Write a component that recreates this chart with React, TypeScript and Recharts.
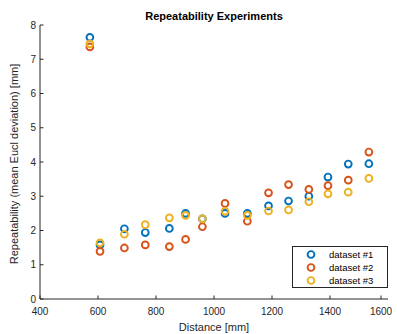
import React from 'react';
import { ScatterChart, Scatter, XAxis, YAxis, Legend, Customized } from 'recharts';

const distances = [572, 607, 691, 763, 846, 902, 960, 1038, 1115, 1188, 1257, 1327, 1393, 1463, 1534];
const dataset1 = [7.64, 1.58, 2.05, 1.94, 2.06, 2.5, 2.34, 2.5, 2.5, 2.72, 2.86, 3.0, 3.56, 3.94, 3.95];
const dataset2 = [7.36, 1.39, 1.49, 1.58, 1.53, 1.74, 2.11, 2.79, 2.27, 3.1, 3.34, 3.2, 3.31, 3.47, 4.29];
const dataset3 = [7.45, 1.64, 1.89, 2.17, 2.37, 2.44, 2.34, 2.56, 2.44, 2.57, 2.6, 2.84, 3.07, 3.12, 3.52];
const seriesNames = ['dataset #1', 'dataset #2', 'dataset #3'];
const xTicks = [400, 600, 800, 1000, 1200, 1400, 1600];
const yTicks = [0, 1, 2, 3, 4, 5, 6, 7, 8];
const titleText = 'Repeatability Experiments';
const xLabel = 'Distance [mm]';
const yLabel = 'Repeatability (mean Eucl deviation) [mm]';

const COLORS = ['#0072BD', '#D95319', '#EDB120'];
const AXIS = '#262626';
const FONT = '"Liberation Sans", Arial, Helvetica, sans-serif';

const seriesData = [dataset1, dataset2, dataset3].map((vals) =>
  distances.map((x, i) => ({ x, y: vals[i] }))
);

const Ring = (color: string) => (props: any) =>
  <circle cx={props.cx} cy={props.cy} r={3.4} fill="none" stroke={color} strokeWidth={1.9} />;

const XTick = (props: any) => {
  const { x, y, payload } = props;
  return (
    <g>
      <line x1={x} y1={y} x2={x} y2={y - 3.5} stroke={AXIS} strokeWidth={1} />
      <text x={x} y={y + 16} textAnchor="middle" fill={AXIS} fontSize={10} fontFamily={FONT}>{payload.value}</text>
    </g>
  );
};

const YTick = (props: any) => {
  const { x, y, payload } = props;
  return (
    <g>
      <line x1={x} y1={y} x2={x + 3.5} y2={y} stroke={AXIS} strokeWidth={1} />
      <text x={x - 4} y={y + 3.5} textAnchor="end" fill={AXIS} fontSize={10} fontFamily={FONT}>{payload.value}</text>
    </g>
  );
};

const LegendBox = () => (
  <div style={{ width: 96, height: 42, border: `1px solid ${AXIS}`, background: '#fff', boxSizing: 'border-box', position: 'relative' }}>
    <svg width={94} height={40} style={{ position: 'absolute', left: 0, top: 0 }}>
      {seriesNames.map((n, i) => (
        <g key={n}>
          <circle cx={18} cy={7.5 + i * 13} r={3.4} fill="none" stroke={COLORS[i]} strokeWidth={1.9} />
          <text x={36} y={11 + i * 13} fontSize={9.5} fill="#000" fontFamily={FONT}>{n}</text>
        </g>
      ))}
    </svg>
  </div>
);

const Texts = () => (
  <g fontFamily={FONT}>
    <text x={214} y={20} textAnchor="middle" fontSize={11} fontWeight="bold" fill="#000">{titleText}</text>
    <text x={214} y={331} textAnchor="middle" fontSize={11} fill={AXIS}>{xLabel}</text>
    <text x={18} y={164} textAnchor="middle" fontSize={11} fill={AXIS} transform="rotate(-90 18 164)">{yLabel}</text>
  </g>
);

export default function App() {
  return (
    <div style={{ position: 'absolute', left: 0, top: 0, width: 397, height: 334, background: '#fff' }}>
      <ScatterChart width={397} height={334} margin={{ top: 25, right: 9, bottom: 0, left: 0 }}>
        <XAxis
          type="number"
          dataKey="x"
          domain={[400, 1600]}
          ticks={xTicks}
          height={35}
          tickSize={0}
          tickMargin={0}
          tickLine={false}
          tick={XTick}
          axisLine={{ stroke: AXIS, strokeWidth: 1 }}
          allowDataOverflow
        />
        <YAxis
          type="number"
          dataKey="y"
          domain={[0, 8]}
          ticks={yTicks}
          width={40}
          tickSize={0}
          tickMargin={0}
          tickLine={false}
          tick={YTick}
          axisLine={{ stroke: AXIS, strokeWidth: 1 }}
          allowDataOverflow
        />
        {seriesData.map((d, i) => (
          <Scatter key={i} name={seriesNames[i]} data={d} fill={COLORS[i]} shape={Ring(COLORS[i])} isAnimationActive={false} />
        ))}
        <Legend
          layout="vertical"
          align="center"
          verticalAlign="middle"
          content={LegendBox}
          wrapperStyle={{ position: 'absolute', left: 292, top: 246, width: 96, height: 42, margin: 0 }}
        />
        <Customized component={Texts} />
      </ScatterChart>
    </div>
  );
}
